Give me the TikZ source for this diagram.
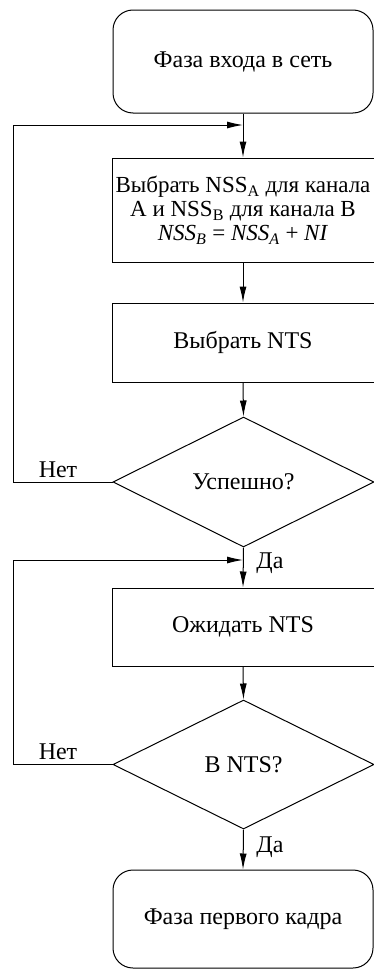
\documentclass[tikz,border=0pt]{standalone}
\usepackage{fontspec}
\setmainfont{Liberation Serif}
\usetikzlibrary{shapes.geometric,arrows.meta}
\begin{document}
\begin{tikzpicture}[x=1pt,y=-1pt,line width=1pt,
	phase/.style={draw,rounded corners=20pt,minimum width=260pt,minimum height=#1,inner sep=0pt,font=\fontsize{24}{23}\selectfont},
	action/.style={draw,minimum width=262pt,minimum height=#1,inner sep=0pt,align=center,font=\fontsize{24}{23}\selectfont},
	query/.style={draw,diamond,minimum width=261pt,minimum height=130pt,inner sep=0pt,font=\fontsize{24}{23}\selectfont},
	lbl/.style={inner sep=0pt,font=\fontsize{24}{23}\selectfont},
	flow/.style={-{Latex[length=16pt,width=7pt]}}]
	\useasboundingbox (0, 0) rectangle (374, 969);
	\node[phase=103pt] at (243, 61.5) (start) {Фаза входа в сеть};
	\node[action=104pt,font=\fontsize{23}{24}\selectfont] at (243, 210) (pick) {Выбрать NSS\textsubscript{A} для канала\\А и NSS\textsubscript{B} для канала B\\\textit{NSS}\textsubscript{\textit{B}} = \textit{NSS}\textsubscript{\textit{A}} + \textit{NI}};
	\node[action=79pt] at (243, 342.5) (picknts) {Выбрать NTS};
	\node[query] at (243.5, 482) (ok) {Успешно?};
	\node[action=78pt] at (243, 627) (wait) {Ожидать NTS};
	\node[query,minimum height=129pt] at (243.5, 764.5) (innts) {В NTS?};
	\node[phase=98pt] at (243, 919) (first) {Фаза первого кадра};
	\coordinate (j1) at (243, 125);
	\coordinate (j2) at (243, 560);
	\node[lbl] at (58, 470) (no1) {Нет};
	\node[lbl] at (58, 752) (no2) {Нет};
	\node[lbl] at (270, 563) (yes1) {Да};
	\node[lbl] at (270, 847) (yes2) {Да};
	\draw[flow] (start.south) -- (pick.north);
	\draw[flow] (pick.south) -- (picknts.north);
	\draw[flow] (picknts.south) -- (ok.north);
	\draw[flow] (ok.west) -- (13, 482) -- (13, 125) -- (j1);
	\draw[flow] (ok.south) -- (wait.north);
	\draw[flow] (wait.south) -- (innts.north);
	\draw[flow] (innts.west) -- (13, 764.5) -- (13, 560) -- (j2);
	\draw[flow] (innts.south) -- (first.north);
\end{tikzpicture}
\end{document}
